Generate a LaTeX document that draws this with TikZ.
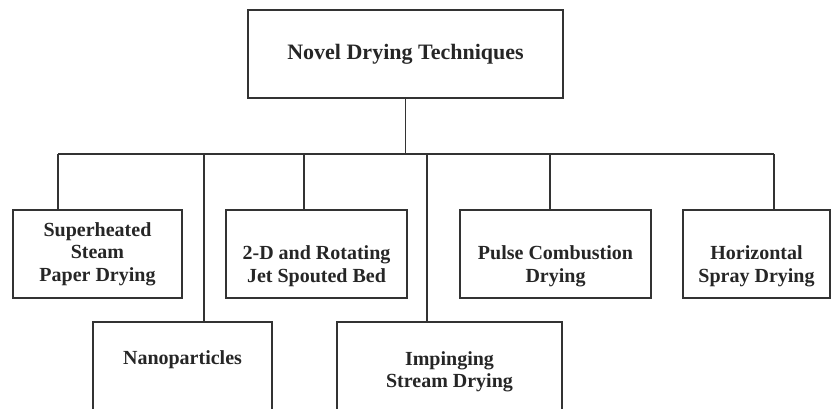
\documentclass[tikz,border=0pt]{standalone}
\usepackage{fontspec}
\setmainfont{Liberation Serif}
\usetikzlibrary{calc}
\definecolor{linegray}{HTML}{333333}

\begin{document}
\begin{tikzpicture}[x=1pt, y=-1pt]
   \tikzstyle{tnode}=[rectangle, draw=linegray, line width=1.8pt, inner sep=0pt, text=black!85, font=\fontsize{22}{26}\selectfont\bfseries]
   \tikzstyle{bnode}=[rectangle, draw=linegray, line width=1.8pt, inner sep=0pt, align=center, minimum height=88pt, text=black!85, font=\fontsize{20}{22.5}\selectfont\bfseries]
   \tikzstyle{lnode}=[bnode, minimum height=100pt]
   \tikzstyle{link}=[draw=linegray, line width=1.4pt]

   \useasboundingbox (0,0) rectangle (831,408);
   \clip (0,0) rectangle (831,408);

   % top node
   \draw (405.5, 54) node[tnode, minimum width=315pt, minimum height=88pt] (top) {Novel Drying Techniques};
   % upper row
   \draw (97.5, 254) node[bnode, minimum width=169pt] (steam) {Superheated\\Steam\\Paper Drying};
   \draw (316.5, 254) node[bnode, minimum width=181pt] (jet) {\strut\\2-D and Rotating\\Jet Spouted Bed};
   \draw (555.5, 254) node[bnode, minimum width=191pt] (pulse) {\strut\\Pulse Combustion\\Drying};
   \draw (756.5, 254) node[bnode, minimum width=147pt] (spray) {\strut\\Horizontal\\Spray Drying};
   % lower row
   \draw (182.5, 372) node[lnode, minimum width=179pt] (nano) {Nanoparticles\\\strut};
   \draw (449.5, 372) node[lnode, minimum width=225pt] (imp) {Impinging\\Stream Drying};

   % branch points
   \coordinate (bus) at (405.5, 154);
   \coordinate (b1) at (58, 154);
   \coordinate (b2) at (204, 154);
   \coordinate (b3) at (304, 154);
   \coordinate (b4) at (427, 154);
   \coordinate (b5) at (550, 154);
   \coordinate (b6) at (774, 154);

   % connections
   \draw[link] (top.south) -- (bus);
   \draw[link] (b1) -- (b6);
   \draw[link] (b1) -- (b1 |- steam.north);
   \draw[link] (b2) -- (b2 |- nano.north);
   \draw[link] (b3) -- (b3 |- jet.north);
   \draw[link] (b4) -- (b4 |- imp.north);
   \draw[link] (b5) -- (b5 |- pulse.north);
   \draw[link] (b6) -- (b6 |- spray.north);
\end{tikzpicture}
\end{document}
